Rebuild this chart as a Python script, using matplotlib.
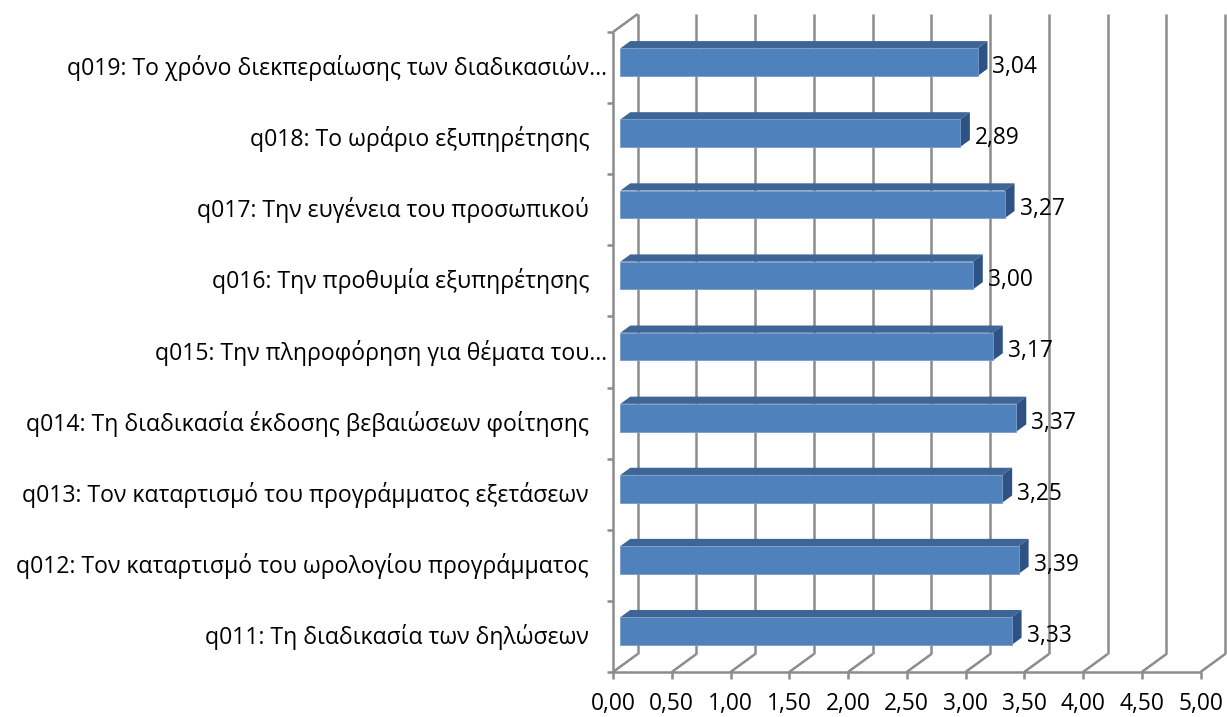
#!/usr/bin/env python3

import matplotlib

matplotlib.use("Agg")
import matplotlib.pyplot as plt
from matplotlib.patches import Polygon, Rectangle


CATEGORIES = [
    "q011: Τη διαδικασία των δηλώσεων   ",
    "q012: Τον καταρτισμό του ωρολογίου προγράμματος   ",
    "q013: Τον καταρτισμό του προγράμματος εξετάσεων   ",
    "q014: Τη διαδικασία έκδοσης βεβαιώσεων φοίτησης   ",
    "q015: Την πληροφόρηση για θέματα του…",
    "q016: Την προθυμία εξυπηρέτησης   ",
    "q017: Την ευγένεια του προσωπικού   ",
    "q018: Το ωράριο εξυπηρέτησης   ",
    "q019: Το χρόνο διεκπεραίωσης των διαδικασιών…",
]
MEANS = [3.33, 3.39, 3.25, 3.37, 3.17, 3.00, 3.27, 2.89, 3.04]
X_TICKS = [0.0, 0.5, 1.0, 1.5, 2.0, 2.5, 3.0, 3.5, 4.0, 4.5, 5.0]

FIGURE_WIDTH_PX = 1227
FIGURE_HEIGHT_PX = 717
FIGURE_DPI = 100

# front plane of the 3d box, in pixels
FRONT_LEFT_PX = 613.0
FRONT_RIGHT_PX = 1200.5
FRONT_BOTTOM_PX = 672.0
FRONT_TOP_PX = 32.0
DEPTH_DX_PX = 24.7
DEPTH_DY_PX = 18.0

BAR_FRONT = 0.3
BAR_BACK = 0.7
BAR_HEIGHT = 0.39

FACE_COLOR = "#4F81BD"
TOP_COLOR = "#3D6595"
SIDE_COLOR = "#2E5283"
GRID_COLOR = "#8C8C8C"
TEXT_COLOR = "#000000"
FONT = ["Open Sans", "DejaVu Sans"]
LABEL_SIZE = 16.6
VALUE_SIZE = 16.4


def px_to_fig(x_px, y_px):
    return x_px / FIGURE_WIDTH_PX, 1 - y_px / FIGURE_HEIGHT_PX


def draw_chart():
    fig = plt.figure(
        figsize=(FIGURE_WIDTH_PX / FIGURE_DPI, FIGURE_HEIGHT_PX / FIGURE_DPI),
        dpi=FIGURE_DPI,
    )
    left, bottom = px_to_fig(FRONT_LEFT_PX, FRONT_BOTTOM_PX)
    right, top = px_to_fig(FRONT_RIGHT_PX, FRONT_TOP_PX)
    ax = fig.add_axes([left, bottom, right - left, top - bottom])
    ax.set_xlim(0, 5)
    ax.set_ylim(-0.5, len(CATEGORIES) - 0.5)
    ax.axis("off")

    px_per_x = (FRONT_RIGHT_PX - FRONT_LEFT_PX) / 5
    px_per_cat = (FRONT_BOTTOM_PX - FRONT_TOP_PX) / len(CATEGORIES)
    ddx = DEPTH_DX_PX / px_per_x
    ddy = DEPTH_DY_PX / px_per_cat
    y_low, y_high = -0.5, len(CATEGORIES) - 0.5

    line_style = dict(color=GRID_COLOR, lw=1.8, clip_on=False, zorder=1,
                      solid_capstyle="butt")

    # back wall gridlines and floor diagonals
    for x in X_TICKS:
        ax.plot([x + ddx, x + ddx], [y_low + ddy, y_high + ddy], **line_style)
        ax.plot([x, x + ddx], [y_low, y_low + ddy], **line_style)
        ax.plot([x, x], [y_low, y_low - 7 / px_per_cat], **line_style)
        ax.text(x, y_low - 38 / px_per_cat, f"{x:.2f}".replace(".", ","),
                ha="center", va="baseline", fontsize=VALUE_SIZE, family=FONT,
                color=TEXT_COLOR)

    # left wall and front axis
    ax.plot([0, 0], [y_low, y_high], **line_style)
    ax.plot([0, ddx], [y_high, y_high + ddy], **line_style)
    ax.plot([0, 5], [y_low, y_low], **line_style)
    for k in range(len(CATEGORIES) + 1):
        y = y_low + k
        ax.plot([0, -6 / px_per_x], [y, y], **line_style)

    for i, (label, value) in enumerate(zip(CATEGORIES, MEANS)):
        fx, fy = BAR_FRONT * ddx, BAR_FRONT * ddy
        bx, by = BAR_BACK * ddx, BAR_BACK * ddy
        y0 = i - BAR_HEIGHT / 2
        y1 = i + BAR_HEIGHT / 2
        top_face = Polygon(
            [(fx, y1 + fy), (value + fx, y1 + fy),
             (value + bx, y1 + by), (bx, y1 + by)],
            closed=True, facecolor=TOP_COLOR, edgecolor="none",
            clip_on=False, zorder=3,
        )
        side_face = Polygon(
            [(value + fx, y0 + fy), (value + bx, y0 + by),
             (value + bx, y1 + by), (value + fx, y1 + fy)],
            closed=True, facecolor=SIDE_COLOR, edgecolor="none",
            clip_on=False, zorder=3,
        )
        front_face = Rectangle(
            (fx, y0 + fy), value, BAR_HEIGHT,
            facecolor=FACE_COLOR, edgecolor="#7A9CC8", lw=0.6,
            clip_on=False, zorder=4,
        )
        ax.add_patch(top_face)
        ax.add_patch(side_face)
        ax.add_patch(front_face)

        ax.text(value + bx + 5 / px_per_x, i - 5.5 / px_per_cat,
                f"{value:.2f}".replace(".", ","),
                ha="left", va="baseline", fontsize=VALUE_SIZE, family=FONT,
                color=TEXT_COLOR, zorder=5)
        ax.text(-6 / px_per_x, i - 7.5 / px_per_cat, label, ha="right",
                va="baseline", fontsize=LABEL_SIZE, family=FONT,
                color=TEXT_COLOR)

    fig.savefig("out.png", dpi=FIGURE_DPI, facecolor="white")


def main() -> int:
    draw_chart()
    return 0


if __name__ == "__main__":
    raise SystemExit(main())
